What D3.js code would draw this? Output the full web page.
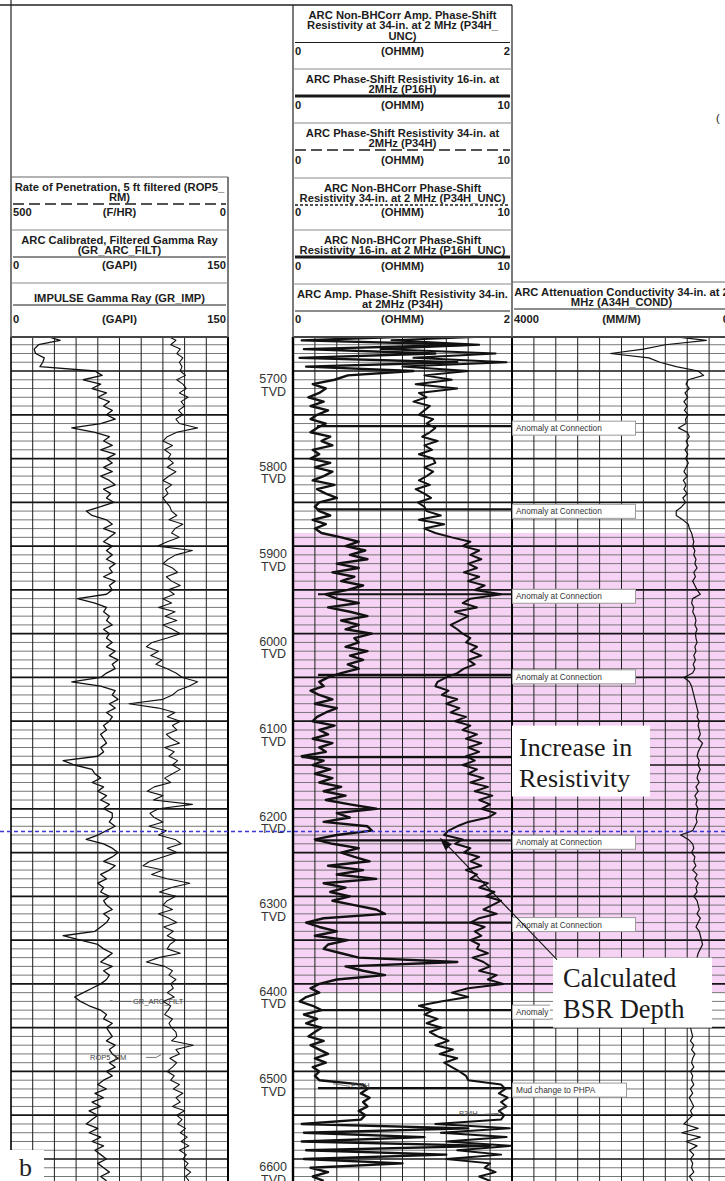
<!DOCTYPE html>
<html><head><meta charset="utf-8">
<script src="https://cdn.jsdelivr.net/npm/d3@7"></script>
<style>
html,body{margin:0;padding:0;background:#fff;}
svg{display:block;}
</style></head><body>
<svg id="c" width="725" height="1181"></svg>
<script>
// ---------------- DATA ----------------
const depthStart = 5660, depthStep = 5;           // ft TVD, sampling of the curves
const depthTicks = [5700, 5800, 5900, 6000, 6100, 6200, 6300, 6400, 6500, 6600];

// GR_ARC_FILT (GAPI, 0-150)
const gr_arc_filt = [
 24,34,19,16,17,23,22,20,58,63,
 50,62,56,66,60,68,64,70,66,72,
 62,42,58,68,64,70,62,72,66,70,
 64,70,62,68,72,64,69,66,71,62,
 52,56,66,70,64,72,68,64,70,66,
 70,66,72,68,70,64,72,68,70,66,
 46,58,66,64,68,66,70,64,68,66,
 70,66,72,68,74,70,72,66,62,42,
 62,72,70,74,68,72,66,70,68,64,
 66,62,64,66,62,64,60,36,44,56,
 58,62,56,64,60,66,62,68,64,70,
 70,68,72,66,60,52,64,70,74,70,
 64,72,68,62,66,60,64,62,68,64,
 66,70,64,68,66,62,58,36,48,60,
 64,70,66,62,70,64,68,66,62,56,
 50,44,48,54,62,66,64,70,66,68,
 70,66,72,68,70,74,68,72,66,70,
 64,60,66,58,64,56,62,54,60,56,
 52,60,54,62,56,64,58,62,66,60,
 64,68,62,66
];
// ROP5_RM (F/HR, 500-0)
const rop5_rm = [
 140,120,132,110,118,104,112,106,110,98,
 118,104,96,112,92,108,100,114,104,120,
 112,70,118,140,150,128,146,132,138,126,
 140,120,136,150,130,144,138,150,142,134,
 130,118,136,104,122,130,112,140,162,82,
 120,138,150,128,116,142,130,110,138,124,
 150,130,160,122,145,118,150,128,110,140,
 175,188,160,178,152,166,140,120,105,70,
 90,116,128,150,228,160,122,140,110,128,
 118,142,130,112,146,124,136,116,128,110,
 128,146,132,170,186,150,172,82,160,180,
 170,150,182,142,160,122,108,140,118,150,
 180,196,150,176,140,88,130,158,120,140,
 150,128,160,136,118,148,126,140,120,134,
 140,110,160,188,146,128,136,120,132,126,
 140,124,150,132,138,146,128,136,130,120,
 118,130,80,120,112,134,118,128,140,124,
 132,112,126,104,120,110,128,100,118,106,
 116,98,110,94,108,90,112,96,104,92,
 100,86,98,90
];
// P16H phase-shift resistivity 16-in (OHMM, 0-10)
const p16h = [
 6,0.4,8,0.5,6.5,0.3,7.5,0.6,5.5,2.5,
 1.9,0.9,1.5,1.2,0.7,1.4,0.8,1.6,1.1,0.8,
 1.5,1.1,0.8,1.7,1.3,1.8,0.9,1.2,0.8,1.7,
 1.0,1.8,1.4,0.9,1.9,1.1,1.5,2.0,1.2,1.0,
 1.2,1.7,0.9,1.5,1.0,1.3,2.2,3.0,2.4,3.3,
 2.6,3.4,2.0,3.0,1.8,2.8,2.2,3.2,2.5,1.5,
 2.0,3.0,1.6,2.6,3.4,2.2,3.0,2.4,3.6,2.8,
 3.0,2.4,3.4,2.6,3.2,2.5,3.0,2.2,1.6,1.2,
 1.4,0.8,1.2,1.8,1.0,2.0,1.5,1.1,0.9,1.9,
 1.2,1.6,0.9,1.8,1.2,1.5,0.4,1.4,0.9,1.7,
 1.0,1.8,1.2,2.2,1.4,2.4,1.5,2.6,3.8,2.0,
 2.6,1.4,3.4,3.6,2.0,1.0,1.8,3.0,2.2,2.8,
 3.5,1.6,3.2,2.0,3.8,1.4,2.4,1.7,2.6,1.8,
 2.8,3.8,4.2,1.4,0.6,1.2,2.0,1.0,2.5,1.6,
 1.4,2.2,3.0,7.5,2.4,3.2,4.2,2.0,1.2,0.8,
 1.2,0.6,0.3,0.9,1.3,0.5,1.1,0.6,1.3,1.0,
 0.7,1.4,0.8,1.2,1.6,1.0,1.5,0.9,1.2,1.0,
 1.2,3.2,3.4,3.1,3.5,3.2,3.4,3.0,3.3,3.1,
 0.4,8,0.5,6,0.4,9,0.6,7,0.5,5,
 0.8,1.6,0.9,1.4
];
// P34H amplitude resistivity 34-in (OHMM, 0-2)
const p34h = [
 1.9,0.9,1.7,0.8,1.85,1.1,1.95,1.0,1.6,1.2,
 1.45,1.12,1.5,1.15,1.22,1.1,1.25,1.2,1.15,1.28,
 1.22,1.3,1.25,1.18,1.32,1.2,1.27,1.15,1.28,1.3,
 1.2,1.28,1.22,1.15,1.25,1.12,1.2,1.26,1.14,1.2,
 1.22,1.35,1.15,1.38,1.2,1.3,1.45,1.62,1.55,1.7,
 1.62,1.72,1.6,1.68,1.56,1.7,1.6,1.75,1.66,1.9,
 1.62,1.55,1.68,1.48,1.6,1.52,1.44,1.5,1.55,1.62,
 1.58,1.68,1.62,1.72,1.6,1.66,1.56,1.5,1.4,1.32,
 1.3,1.42,1.36,1.5,1.4,1.52,1.44,1.58,1.48,1.62,
 1.55,1.68,1.58,1.72,1.6,1.7,1.58,1.66,1.55,1.68,
 1.6,1.74,1.62,1.78,1.66,1.82,1.7,1.8,1.72,1.85,
 1.78,1.6,1.5,1.42,1.38,1.55,1.48,1.62,1.56,1.7,
 1.62,1.72,1.58,1.68,1.62,1.78,1.7,1.84,1.76,1.9,
 1.82,1.74,1.86,1.7,1.62,1.75,1.66,1.72,1.62,1.7,
 1.68,1.78,1.64,1.74,1.8,1.7,1.86,1.78,1.92,1.6,
 1.45,1.6,1.35,1.15,1.28,1.2,1.32,1.22,1.36,1.25,
 1.32,1.42,1.3,1.46,1.34,1.5,1.38,1.45,1.52,1.58,
 1.6,1.9,1.94,1.88,1.96,1.9,1.95,1.88,1.93,1.9,
 1.3,1.98,1.35,1.95,1.4,1.99,1.5,1.9,1.4,1.8,
 1.75,1.85,1.7,1.8
];
// A34H_COND attenuation conductivity (MM/M, 4000-0)
const a34h_cond = [
 1150,450,1200,1600,2200,1500,1300,1000,600,500,
 780,820,760,840,790,860,800,850,780,830,
 820,960,800,760,820,780,840,790,830,780,
 820,860,800,870,820,860,800,880,830,900,
 1000,1000,880,780,760,720,700,680,700,660,
 680,640,660,620,680,650,700,660,620,560,
 700,720,680,700,660,640,660,620,650,640,
 620,660,640,680,650,690,660,700,860,760,
 720,700,680,660,640,620,600,620,580,600,
 580,560,600,520,560,600,620,580,600,560,
 600,620,580,640,600,660,620,640,600,620,
 640,620,660,700,920,780,700,680,720,660,
 680,640,700,620,660,600,640,620,680,620,
 600,580,620,560,600,640,580,560,540,520,
 560,600,620,640,660,640,660,680,700,680,
 700,680,720,700,720,740,720,700,740,720,
 700,740,680,720,660,700,720,680,740,700,
 720,680,740,700,760,720,680,740,700,780,
 860,600,900,560,820,620,760,680,740,700,
 720,680,760,700
];

const anomalyDepths = [5763, 5858, 5955, 6047, 6141, 6236, 6330, 6430];
const anomalyLabel = "Anomaly at Connection";
const mudChangeDepth = 6519;
const mudChangeLabel = "Mud change to PHPA";
const bsrDepth = 6226;
const hydrateZone = [5885, 6410];
const noteIncrease = ["Increase in", "Resistivity"];
const noteBSR = ["Calculated", "BSR Depth"];
const panelLetter = "b";

const leftHeaderTitles = [
 ["Rate of Penetration, 5 ft filtered (ROP5_", "RM)"],
 ["ARC Calibrated, Filtered Gamma Ray", "(GR_ARC_FILT)"],
 ["IMPULSE Gamma Ray (GR_IMP)"]
];
const leftHeaderScales = [["500","(F/HR)","0"],["0","(GAPI)","150"],["0","(GAPI)","150"]];
const midHeaderTitles = [
 ["ARC Non-BHCorr Amp. Phase-Shift","Resistivity at 34-in. at 2 MHz (P34H_","UNC)"],
 ["ARC Phase-Shift Resistivity 16-in. at","2MHz (P16H)"],
 ["ARC Phase-Shift Resistivity 34-in. at","2MHz (P34H)"],
 ["ARC Non-BHCorr Phase-Shift","Resistivity 34-in. at 2 MHz (P34H_UNC)"],
 ["ARC Non-BHCorr Phase-Shift","Resistivity 16-in. at 2 MHz (P16H_UNC)"],
 ["ARC Amp. Phase-Shift Resistivity 34-in.","at 2MHz (P34H)"]
];
const midHeaderScales = [["0","(OHMM)","2"],["0","(OHMM)","10"],["0","(OHMM)","10"],["0","(OHMM)","10"],["0","(OHMM)","10"],["0","(OHMM)","2"]];
const rightHeaderTitles = [["ARC Attenuation Conductivity 34-in. at 2","MHz (A34H_COND)"]];
const rightHeaderScales = [["4000","(MM/M)","0"]];

// ---------------- DRAWING ----------------
const W = 725, H = 1181;
const svg = d3.select('#c');
const SANS = "'Liberation Sans', Arial, sans-serif";
const SERIF = "'Liberation Serif', 'Times New Roman', serif";

const depths = gr_arc_filt.map((v, i) => depthStart + i * depthStep);
const y = d3.scaleLinear().domain([5700, 6600]).range([371, 1159]);
const trackTop = 337;
const L = [11, 228], M = [293, 512], R = [512, 731];

const xGR = d3.scaleLinear().domain([0, 150]).range(L);
const xROP = d3.scaleLinear().domain([500, 0]).range(L);
const xP16 = d3.scaleLinear().domain([0, 10]).range(M);
const xP34 = d3.scaleLinear().domain([0, 2]).range(M);
const xCond = d3.scaleLinear().domain([4000, 0]).range(R);

svg.append('rect').attr('width', W).attr('height', H).attr('fill', '#fff');

// clip paths
const defs = svg.append('defs');
[['clipL', L], ['clipM', M], ['clipR', R]].forEach(([id, r]) => {
  defs.append('clipPath').attr('id', id).append('rect')
    .attr('x', r[0]).attr('y', trackTop).attr('width', r[1] - r[0]).attr('height', H - trackTop);
});
defs.append('clipPath').attr('id', 'clipBehindBSR').append('rect')
  .attr('x', 500).attr('y', 0).attr('width', 50).attr('height', H);

// hydrate zone shading
svg.append('rect')
  .attr('x', M[0]).attr('y', y(hydrateZone[0]))
  .attr('width', R[1] - M[0]).attr('height', y(hydrateZone[1]) - y(hydrateZone[0]))
  .attr('fill', '#f6d3f4');

// grids
function grid(r) {
  const g = svg.append('g');
  const gd = d3.range(5660, 6630, 10).filter(d => y(d) > trackTop + 1);
  gd.forEach(d => {
    const thick = d % 50 === 0;
    g.append('line').attr('x1', r[0]).attr('x2', Math.min(r[1], W)).attr('y1', y(d)).attr('y2', y(d))
      .attr('stroke', thick ? '#151515' : '#6a6a6a').attr('stroke-width', thick ? 1.7 : 0.9);
  });
  const gx = d3.scaleLinear().domain([0, 10]).range(r);
  d3.range(1, 10).forEach(i => {
    g.append('line').attr('x1', gx(i)).attr('x2', gx(i)).attr('y1', trackTop).attr('y2', H)
      .attr('stroke', '#1e1e1e').attr('stroke-width', 1);
  });
  g.append('line').attr('x1', r[0]).attr('x2', Math.min(r[1], W)).attr('y1', trackTop).attr('y2', trackTop)
    .attr('stroke', '#000').attr('stroke-width', 2.2);
}
grid(L); grid(M); grid(R);
// track borders
[[L[0], 1.6], [L[1], 2], [M[0], 2.4], [M[1], 2]].forEach(([x, w]) => {
  svg.append('line').attr('x1', x).attr('x2', x).attr('y1', trackTop).attr('y2', H)
    .attr('stroke', '#000').attr('stroke-width', w);
});

// curves
function curve(vals, xs, clip, w) {
  const line = d3.line().x(d => xs(d)).y((d, i) => y(depths[i]));
  svg.append('path').attr('d', line(vals)).attr('clip-path', `url(#${clip})`)
    .attr('fill', 'none').attr('stroke', '#111').attr('stroke-width', w)
    .attr('stroke-linejoin', 'round');
}
curve(gr_arc_filt, xGR, 'clipL', 1.3);
curve(rop5_rm, xROP, 'clipL', 1.1);
curve(p16h, xP16, 'clipM', 2.4);
curve(p34h, xP34, 'clipM', 2.0);
curve(a34h_cond, xCond, 'clipR', 1.2);

function valueAt(arr, d) {
  const i = Math.max(0, Math.min(arr.length - 1, Math.round((d - depthStart) / depthStep)));
  return arr[i];
}

// anomaly lines + labels
function marker(d, label, boxW, showLabel, clipId) {
  const yy = y(d);
  svg.append('line').attr('x1', Math.min(xP16(valueAt(p16h, d)), 318)).attr('x2', M[1])
    .attr('y1', yy).attr('y2', yy).attr('stroke', '#111').attr('stroke-width', 2.2);
  if (!showLabel) return;
  const g = svg.append('g');
  if (clipId) g.attr('clip-path', `url(#${clipId})`);
  g.append('rect').attr('x', R[0] + 0.5).attr('y', yy - 5).attr('width', boxW).attr('height', 14)
    .attr('fill', '#fff').attr('stroke', '#9a9a9a').attr('stroke-width', 1);
  g.append('text').attr('x', R[0] + 4).attr('y', yy + 5).text(label)
    .attr('font-family', SANS).attr('font-size', 8.3).attr('fill', '#333');
}
anomalyDepths.forEach(d => {
  const hidden = d > 6100 && d < 6190;          // fully covered by the note box
  const behindBSR = d > 6370 && d < 6450;       // partly covered by the BSR note
  marker(d, anomalyLabel, 123, !hidden, behindBSR ? 'clipBehindBSR' : null);
});
marker(mudChangeDepth, mudChangeLabel, 114, true, null);

// depth labels
depthTicks.forEach(d => {
  const g = svg.append('g').attr('font-family', SANS).attr('font-size', 12.5).attr('fill', '#333').attr('text-anchor', 'end');
  g.append('text').attr('x', 287).attr('y', y(d) + 12).text(d);
  g.append('text').attr('x', 286).attr('y', y(d) + 24.5).text('TVD');
});

// BSR dashed line
svg.append('line').attr('x1', 0).attr('x2', W).attr('y1', y(bsrDepth)).attr('y2', y(bsrDepth))
  .attr('stroke', '#3a3ad0').attr('stroke-width', 1.4).attr('stroke-dasharray', '4,3');

// small curve labels
const small = svg.append('g').attr('font-family', SANS).attr('font-size', 7.5).attr('fill', '#444');
small.append('text').attr('x', 133).attr('y', y(6420) + 3).text('GR_ARC_FILT');
small.append('path').attr('d', `M110,${y(6419)} L114,${y(6420)} L131,${y(6420)}`).attr('fill','none').attr('stroke','#555').attr('stroke-width',0.8);
small.append('text').attr('x', 90).attr('y', y(6484) + 3).text('ROP5_RM');
small.append('path').attr('d', `M146,${y(6484)} L156,${y(6484)} L161,${y(6481)}`).attr('fill','none').attr('stroke','#555').attr('stroke-width',0.8);
small.append('text').attr('x', 351).attr('y', y(6519)).text('P34H');
small.append('path').attr('d', `M333,${y(6514)} L350,${y(6517)}`).attr('fill','none').attr('stroke','#555').attr('stroke-width',0.8);
small.append('text').attr('x', 459).attr('y', y(6551)).text('P34H');
small.append('path').attr('d', `M484,${y(6549)} L498,${y(6548)} L507,${y(6538)}`).attr('fill','none').attr('stroke','#555').attr('stroke-width',0.8);

// Increase in Resistivity note
const incTop = y(6105), incBot = y(6186);
svg.append('rect').attr('x', 512).attr('y', incTop).attr('width', 138).attr('height', incBot - incTop).attr('fill', '#fff');
noteIncrease.forEach((t, i) => {
  svg.append('text').attr('x', 519).attr('y', incTop + 30 + i * 31).text(t)
    .attr('font-family', SERIF).attr('font-size', 26).attr('fill', '#1a1a1a');
});

// Calculated BSR depth note + arrow
const bsrTop = y(6370), bsrBot = y(6450);
svg.append('rect').attr('x', 553).attr('y', bsrTop).attr('width', 159).attr('height', bsrBot - bsrTop).attr('fill', '#fff');
noteBSR.forEach((t, i) => {
  svg.append('text').attr('x', 563).attr('y', bsrTop + 29 + i * 31).text(t)
    .attr('font-family', SERIF).attr('font-size', 26.5).attr('fill', '#1a1a1a');
});
const tip = [xP34(1.34), y(6233)], tail = [557, bsrTop + 2];
svg.append('line').attr('x1', tail[0]).attr('y1', tail[1]).attr('x2', tip[0] + 5).attr('y2', tip[1] + 5)
  .attr('stroke', '#111').attr('stroke-width', 1.1);
{
  const ang = Math.atan2(tail[1] - tip[1], tail[0] - tip[0]);
  const len = 13, wd = 4.5;
  const bx = tip[0] + len * Math.cos(ang), by = tip[1] + len * Math.sin(ang);
  const px = -Math.sin(ang) * wd, py = Math.cos(ang) * wd;
  svg.append('path').attr('d', `M${tip[0]},${tip[1]} L${bx + px},${by + py} L${bx - px},${by - py} Z`).attr('fill', '#111');
}

// panel letter
svg.append('rect').attr('x', 10).attr('y', 1150).attr('width', 34).attr('height', 31).attr('fill', '#fff');
svg.append('text').attr('x', 19).attr('y', 1176).text(panelLetter)
  .attr('font-family', SERIF).attr('font-size', 26).attr('fill', '#222');

// ---------------- HEADERS ----------------
const hdr = svg.append('g').attr('font-family', SANS).attr('font-weight', 'bold').attr('font-size', 11.2).attr('fill', '#1c1c1c');
function headerBox(x0, x1, top, bottom, titles, scale, style, titleStart) {
  const cx = (x0 + x1) / 2;
  const b0 = titleStart !== undefined ? titleStart : top + 13.5;
  titles.forEach((t, i) => {
    hdr.append('text').attr('x', cx).attr('y', b0 + i * 10.5).attr('text-anchor', 'middle').text(t);
  });
  const ly = b0 + (titles.length - 1) * 10.5 + 3;
  const ln = svg.append('line').attr('x1', x0 + 2).attr('x2', Math.min(x1 - 2, W)).attr('y1', ly).attr('y2', ly)
    .attr('stroke', '#1a1a1a').attr('stroke-width', style.w);
  if (style.dash) ln.attr('stroke-dasharray', style.dash);
  const sb = bottom - 14;
  hdr.append('text').attr('x', x0 + 2).attr('y', sb).text(scale[0]);
  hdr.append('text').attr('x', cx).attr('y', sb).attr('text-anchor', 'middle').text(scale[1]);
  hdr.append('text').attr('x', x1 - 2).attr('y', sb).attr('text-anchor', 'end').text(scale[2]);
  svg.append('line').attr('x1', x0).attr('x2', Math.min(x1, W)).attr('y1', bottom).attr('y2', bottom)
    .attr('stroke', '#8a8a8a').attr('stroke-width', 1);
}
// frame lines
svg.append('line').attr('x1', 0).attr('x2', 512).attr('y1', 5).attr('y2', 5).attr('stroke', '#222').attr('stroke-width', 1.3);
svg.append('line').attr('x1', 11).attr('x2', 11).attr('y1', 0).attr('y2', trackTop).attr('stroke', '#222').attr('stroke-width', 1.2);
svg.append('line').attr('x1', 228).attr('x2', 228).attr('y1', 177).attr('y2', trackTop).attr('stroke', '#222').attr('stroke-width', 1.2);
svg.append('line').attr('x1', 293).attr('x2', 293).attr('y1', 5).attr('y2', trackTop).attr('stroke', '#222').attr('stroke-width', 1.2);
svg.append('line').attr('x1', 512).attr('x2', 512).attr('y1', 5).attr('y2', trackTop).attr('stroke', '#222').attr('stroke-width', 1.2);
svg.append('line').attr('x1', 11).attr('x2', 228).attr('y1', 177).attr('y2', 177).attr('stroke', '#666').attr('stroke-width', 1);
svg.append('line').attr('x1', 512).attr('x2', W).attr('y1', 282).attr('y2', 282).attr('stroke', '#666').attr('stroke-width', 1);

const leftTops = [177, 230, 283, trackTop];
const leftStyles = [{w: 1.3, dash: '11,5'}, {w: 1}, {w: 1}];
leftHeaderTitles.forEach((t, i) => headerBox(L[0], L[1], leftTops[i], leftTops[i + 1], t, leftHeaderScales[i], leftStyles[i], i === 2 ? leftTops[i] + 19 : undefined));

const midTops = [5, 69, 123, 178, 230, 284, trackTop];
const midStyles = [{w: 1}, {w: 3}, {w: 1.3, dash: '11,5'}, {w: 1.6, dash: '3,2'}, {w: 3}, {w: 1}];
midHeaderTitles.forEach((t, i) => headerBox(M[0], M[1], midTops[i], midTops[i + 1], t, midHeaderScales[i], midStyles[i]));

headerBox(R[0], R[1], 282, trackTop, rightHeaderTitles[0], rightHeaderScales[0], {w: 1});
hdr.append('text').attr('x', 716).attr('y', 122).attr('font-weight', 'normal').text('(');
</script>
</body></html>
